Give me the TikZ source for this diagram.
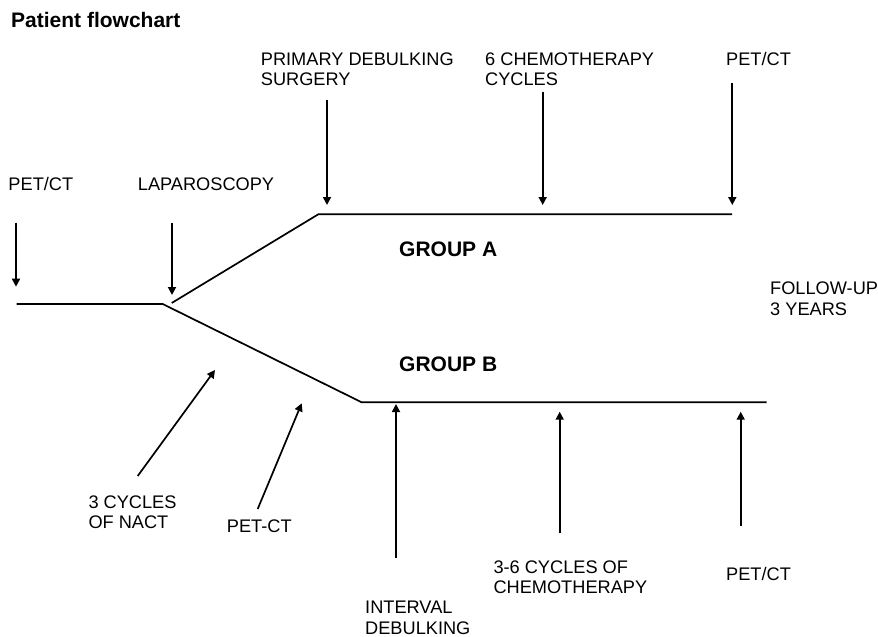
\documentclass[tikz,border=0pt]{standalone}
\usepackage{fontspec}
\setmainfont{Liberation Sans}
\usetikzlibrary{arrows.meta}
\begin{document}
\begin{tikzpicture}[x=1pt,y=-1pt,
  lbl/.style={anchor=base west, inner sep=0pt, font=\fontsize{18.2}{20.4}\selectfont, align=left},
  blbl/.style={anchor=base west, inner sep=0pt, font=\fontsize{21}{24}\selectfont\bfseries},
  trk/.style={line width=1.7pt},
  arr/.style={line width=1.7pt, -{Triangle[length=8pt,width=8pt]}}]
\useasboundingbox (0,0) rectangle (878,637);
% labels (multi-line nodes are placed by the baseline of their last line)
\node[blbl] (title) at (11,27.3) {Patient flowchart};
\node[lbl] (pds) at (260.7,85.7) {PRIMARY DEBULKING\\SURGERY};
\node[lbl] (chemoA) at (485,85.7) {6 CHEMOTHERAPY\\CYCLES};
\node[lbl] (petA) at (726,65.3) {PET/CT};
\node[lbl] (pet0) at (8.3,190.7) {PET/CT};
\node[lbl] (lap) at (137.7,190.7) {LAPAROSCOPY};
\node[blbl] (grpA) at (399,256.7) {GROUP A};
\node[lbl] (fu) at (770,315) {FOLLOW-UP\\3 YEARS};
\node[blbl] (grpB) at (399,371.7) {GROUP B};
\node[lbl] (nact) at (88.3,528.5) {3 CYCLES\\OF NACT};
\node[lbl] (petct) at (226.7,532) {PET-CT};
\node[lbl] (ids) at (365,634) {INTERVAL\\DEBULKING};
\node[lbl] (chemoB) at (493.3,593.5) {3-6 CYCLES OF\\CHEMOTHERAPY};
\node[lbl] (petB) at (726,580.7) {PET/CT};
% track points
\coordinate (s0) at (16.7,304);
\coordinate (fork) at (162.7,304);
\coordinate (a0) at (171.7,303);
\coordinate (a1) at (318.3,214.3);
\coordinate (a2) at (732,214.3);
\coordinate (b1) at (361.7,402.3);
\coordinate (b2) at (766.7,402.3);
\draw[trk] (s0) -- (fork) -- (b1) -- (b2);
\draw[trk] (a0) -- (a1) -- (a2);
% arrow points
\coordinate (pet0s) at (16,222.7);   \coordinate (pet0e) at (16,286.7);
\coordinate (laps) at (172,222.7);   \coordinate (lape) at (172,295);
\coordinate (pdss) at (327,100);     \coordinate (pdse) at (327,205);
\coordinate (chAs) at (542.7,91.7);  \coordinate (chAe) at (542.7,205);
\coordinate (petAs) at (732.3,83.3); \coordinate (petAe) at (732.3,205);
\coordinate (nacts) at (137.7,476);  \coordinate (nacte) at (215,370);
\coordinate (petcts) at (257.7,509); \coordinate (petcte) at (301.7,403.3);
\coordinate (idss) at (396,558.3);   \coordinate (idse) at (396,404);
\coordinate (chBs) at (559.7,533.3); \coordinate (chBe) at (559.7,411.7);
\coordinate (petBs) at (740.7,525.7);\coordinate (petBe) at (740.7,411.7);
\draw[arr] (pet0s) -- (pet0e);
\draw[arr] (laps) -- (lape);
\draw[arr] (pdss) -- (pdse);
\draw[arr] (chAs) -- (chAe);
\draw[arr] (petAs) -- (petAe);
\draw[arr] (nacts) -- (nacte);
\draw[arr] (petcts) -- (petcte);
\draw[arr] (idss) -- (idse);
\draw[arr] (chBs) -- (chBe);
\draw[arr] (petBs) -- (petBe);
\end{tikzpicture}
\end{document}
